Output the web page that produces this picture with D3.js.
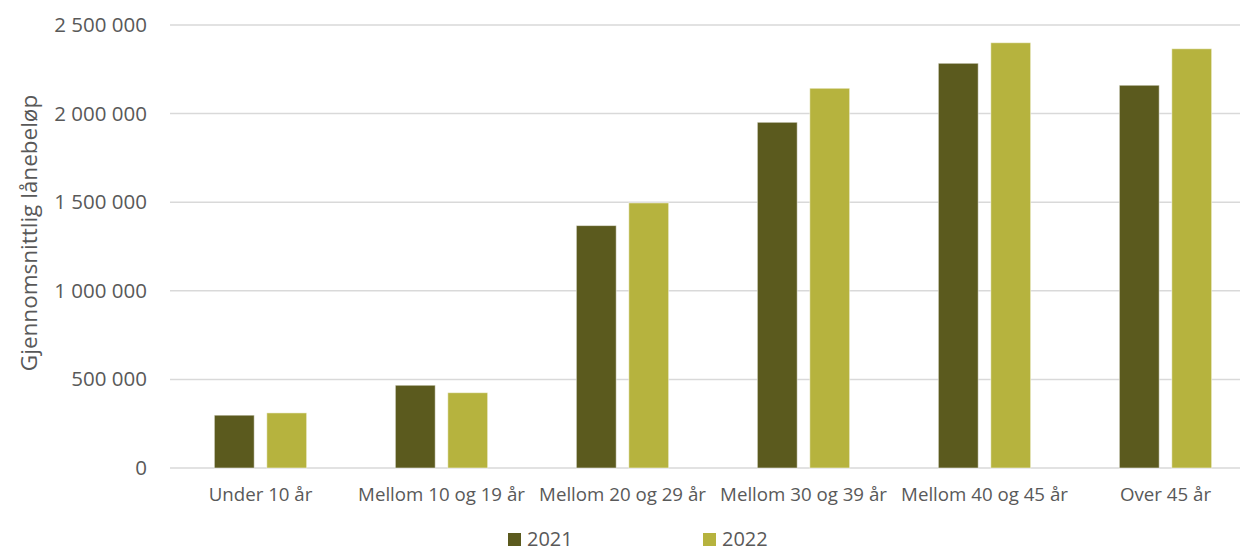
<!DOCTYPE html>
<html>
<head>
<meta charset="utf-8">
<script src="https://cdn.jsdelivr.net/npm/d3@7"></script>
<style>
	body { margin: 0; background: #fff; }
	svg text { font-family: "Open Sans", "Liberation Sans", sans-serif; fill: #595959; }
</style>
</head>
<body>
<svg id="chart" width="1246" height="552"></svg>
<script>
// chart values
const categories = ["Under 10 år", "Mellom 10 og 19 år", "Mellom 20 og 29 år", "Mellom 30 og 39 år", "Mellom 40 og 45 år", "Over 45 år"];
const seriesNames = ["2021", "2022"];
const values2021 = [298000, 467000, 1368000, 1951000, 2284000, 2160000];
const values2022 = [311000, 425000, 1496000, 2143000, 2400000, 2366000];
const yTicks = [0, 500000, 1000000, 1500000, 2000000, 2500000];
const colors = ["#5b5a1e", "#b6b33e"];

const svg = d3.select("#chart");
const margin = {top: 25, left: 170};
const gridWidth = 1070;      // gridlines stop short of the right edge
const bandWidth = 1086;      // category bands run a little past the edge
const height = 443;

const g = svg.append("g").attr("transform", `translate(${margin.left},${margin.top})`);

const x = d3.scaleBand().domain(categories).range([0, bandWidth]).paddingInner(0.49).paddingOuter(0.245);
const xInner = d3.scaleBand().domain(seriesNames).range([0, x.bandwidth()]).paddingInner(0.24);
const y = d3.scaleLinear().domain([0, 2500000]).range([height, 0]);

const fmt = v => d3.format(",")(v).replace(/,/g, " ");

// gridlines
g.append("g")
	.selectAll("line")
	.data(yTicks)
	.enter().append("line")
	.attr("x1", 0).attr("x2", gridWidth)
	.attr("y1", d => y(d)).attr("y2", d => y(d))
	.style("stroke", "#d9d9d9").style("stroke-width", 1.5);

// y axis labels
const yAxis = g.append("g")
	.call(d3.axisLeft(y).tickValues(yTicks).tickFormat(fmt).tickSize(0).tickPadding(23));
yAxis.select(".domain").remove();
yAxis.selectAll("text").style("font-size", "20.5px").attr("fill", "#595959");

// x axis labels
const xAxis = g.append("g")
	.attr("transform", `translate(0,${height})`)
	.call(d3.axisBottom(x).tickSize(0).tickPadding(20));
xAxis.select(".domain").remove();
xAxis.selectAll("text").style("font-size", "18.7px").attr("fill", "#595959");

// bars
const rows = categories.map((c, i) => ({cat: c, vals: [values2021[i], values2022[i]]}));
const groups = g.append("g").selectAll("g")
	.data(rows)
	.enter().append("g")
	.attr("transform", d => `translate(${x(d.cat)},0)`);

groups.selectAll("rect")
	.data(d => d.vals.map((v, k) => ({key: seriesNames[k], v: v, k: k})))
	.enter().append("rect")
	.attr("x", d => xInner(d.key))
	.attr("width", xInner.bandwidth())
	.attr("y", d => y(d.v))
	.attr("height", d => y(0) - y(d.v))
	.attr("fill", d => colors[d.k])
	.style("stroke", "#ffffff").style("stroke-opacity", 0.5).style("stroke-width", 1);

// axis title
svg.append("text")
	.attr("transform", "translate(37,233) rotate(-90)")
	.attr("text-anchor", "middle")
	.style("font-size", "22.5px")
	.text("Gjennomsnittlig lånebeløp");

// legend
const legendX = [508, 703];
const legend = svg.append("g").selectAll("g")
	.data(seriesNames)
	.enter().append("g")
	.attr("transform", (d, i) => `translate(${legendX[i]},533)`);
legend.append("rect").attr("width", 13).attr("height", 13).attr("fill", (d, i) => colors[i]);
legend.append("text").attr("x", 19).attr("y", 13).style("font-size", "20px").text(d => d);
</script>
</body>
</html>
